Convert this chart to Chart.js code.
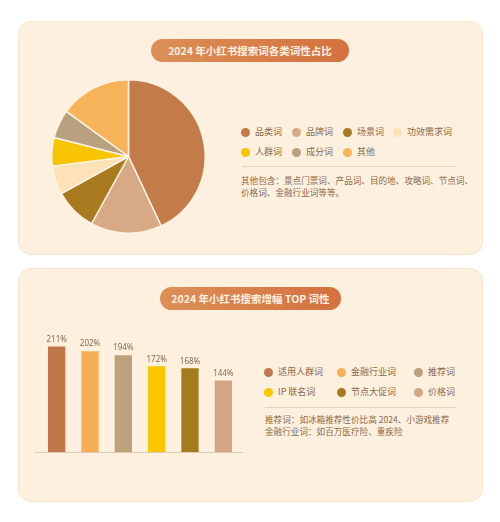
<!DOCTYPE html>
<html>
<head>
<meta charset="utf-8">
<script src="https://cdn.jsdelivr.net/npm/chart.js@4"></script>
<style>
  body { margin: 0; width: 500px; height: 522px; background: #fff; position: relative; overflow: hidden;
         font-family: "Noto Sans CJK SC", "Noto Sans", sans-serif; color: #8a6a4b; }
  .panel { position: absolute; left: 18px; width: 463px; background: #fef0de; border: 1px solid #f6e4cc; border-radius: 13px; }
  .pill { position: absolute; height: 23px; line-height: 23px; border-radius: 12px; text-align: center;
          background: linear-gradient(90deg, #dc8f57, #d4713f); color: #fdf0e0; font-size: 10.5px; font-weight: bold; }
  .legend { position: absolute; font-size: 9px; }
  .item { position: absolute; white-space: nowrap; line-height: 12px; }
  .dot { position: absolute; left: -14px; top: 1.5px; width: 9px; height: 9px; border-radius: 50%; }
  .sep { position: absolute; height: 1px; background: #e5d1b6; }
  .note { position: absolute; font-size: 8.6px; line-height: 12px; white-space: nowrap; }
  canvas { position: absolute; }
</style>
</head>
<body>
<div class="panel" style="top:21px;height:232px;"></div>
<div class="panel" style="top:268px;height:232px;"></div>
<div class="pill" style="left:151px;top:39px;width:198px;">2024 年小红书搜索词各类词性占比</div>
<div class="pill" style="left:160px;top:287px;width:181px;">2024 年小红书搜索增幅 TOP 词性</div>

<div style="position:absolute;left:50px;top:78px;width:157px;height:157px;"><canvas id="pieChart"></canvas></div>
<div id="pieLegend" class="legend"></div>
<div class="sep" style="left:242px;top:166px;width:213px;"></div>
<div class="note" style="left:241px;top:174px;">其他包含：景点门票词、产品词、目的地、攻略词、节点词、<br>价格词、金融行业词等等。</div>

<div style="position:absolute;left:35px;top:332px;width:208px;height:121px;"><canvas id="barChart"></canvas></div>
<div id="barLegend" class="legend"></div>
<div class="sep" style="left:265px;top:407px;width:191px;"></div>
<div class="note" style="left:265px;top:413px;">推荐词：如冰箱推荐性价比高 2024、小游戏推荐<br>金融行业词：如百万医疗险、重疾险</div>

<script>
// Pie: share of search word types
const pieLabels = ['品类词', '品牌词', '场景词', '功效需求词', '人群词', '成分词', '其他'];
const pieValues = [43, 15, 9, 6, 6, 6, 15];
const pieColors = ['#c47b4a', '#d8a985', '#a97a1f', '#fce2b6', '#f8c401', '#b9a07f', '#f7b35a'];

// Bars: top growth word types
const barLabels = ['适用人群词', '金融行业词', '推荐词', 'IP 联名词', '节点大促词', '价格词'];
const barValues = [211, 202, 194, 172, 168, 144];
const barColors = ['#c0784a', '#f6af55', '#bda07c', '#f9c600', '#a67a1f', '#d6a684'];

function buildLegend(id, labels, colors, xs, ys) {
    const box = document.getElementById(id);
    labels.forEach((label, i) => {
        const el = document.createElement('div');
        el.className = 'item';
        el.style.left = xs[i % xs.length] + 'px';
        el.style.top = (ys[Math.floor(i / xs.length)] - 6) + 'px';
        el.innerHTML = '<span class="dot" style="background:' + colors[i] + '"></span>' + label;
        box.appendChild(el);
    });
}

buildLegend('pieLegend', pieLabels, pieColors, [255, 306, 357, 407], [132, 152]);
buildLegend('barLegend', barLabels, barColors, [278, 351, 428], [372, 392]);

new Chart(document.getElementById('pieChart'), {
    type: 'pie',
    data: {
        labels: pieLabels,
        datasets: [{
            data: pieValues,
            backgroundColor: pieColors,
            borderColor: '#fdf3e4',
            borderWidth: 1.5
        }]
    },
    options: {
        responsive: true,
        maintainAspectRatio: false,
        animation: false,
        layout: { padding: 1 },
        plugins: { legend: { display: false }, tooltip: { enabled: false } }
    }
});

// value labels above bars + baseline
const barExtras = {
    id: 'barExtras',
    afterDatasetsDraw(chart) {
        const ctx = chart.ctx;
        const area = chart.chartArea;
        ctx.save();
        ctx.strokeStyle = '#e2cdb0';
        ctx.lineWidth = 1;
        ctx.beginPath();
        ctx.moveTo(0, area.bottom - 0.5);
        ctx.lineTo(chart.width, area.bottom - 0.5);
        ctx.stroke();
        ctx.fillStyle = '#8a6a4b';
        ctx.font = '8px "Noto Sans", sans-serif';
        ctx.textAlign = 'center';
        ctx.textBaseline = 'bottom';
        chart.getDatasetMeta(0).data.forEach((bar, i) => {
            ctx.fillText(barValues[i] + '%', bar.x, bar.y - 3);
        });
        ctx.restore();
    }
};

new Chart(document.getElementById('barChart'), {
    type: 'bar',
    data: {
        labels: barLabels,
        datasets: [{
            data: barValues,
            backgroundColor: barColors,
            categoryPercentage: 1,
            barPercentage: 0.52
        }]
    },
    options: {
        responsive: true,
        maintainAspectRatio: false,
        animation: false,
        layout: { padding: { left: 5, right: 3, top: 0, bottom: 0 } },
        scales: {
            x: { display: false },
            y: { display: false, min: 0, max: 240 }
        },
        plugins: { legend: { display: false }, tooltip: { enabled: false } }
    },
    plugins: [barExtras]
});
</script>
</body>
</html>
